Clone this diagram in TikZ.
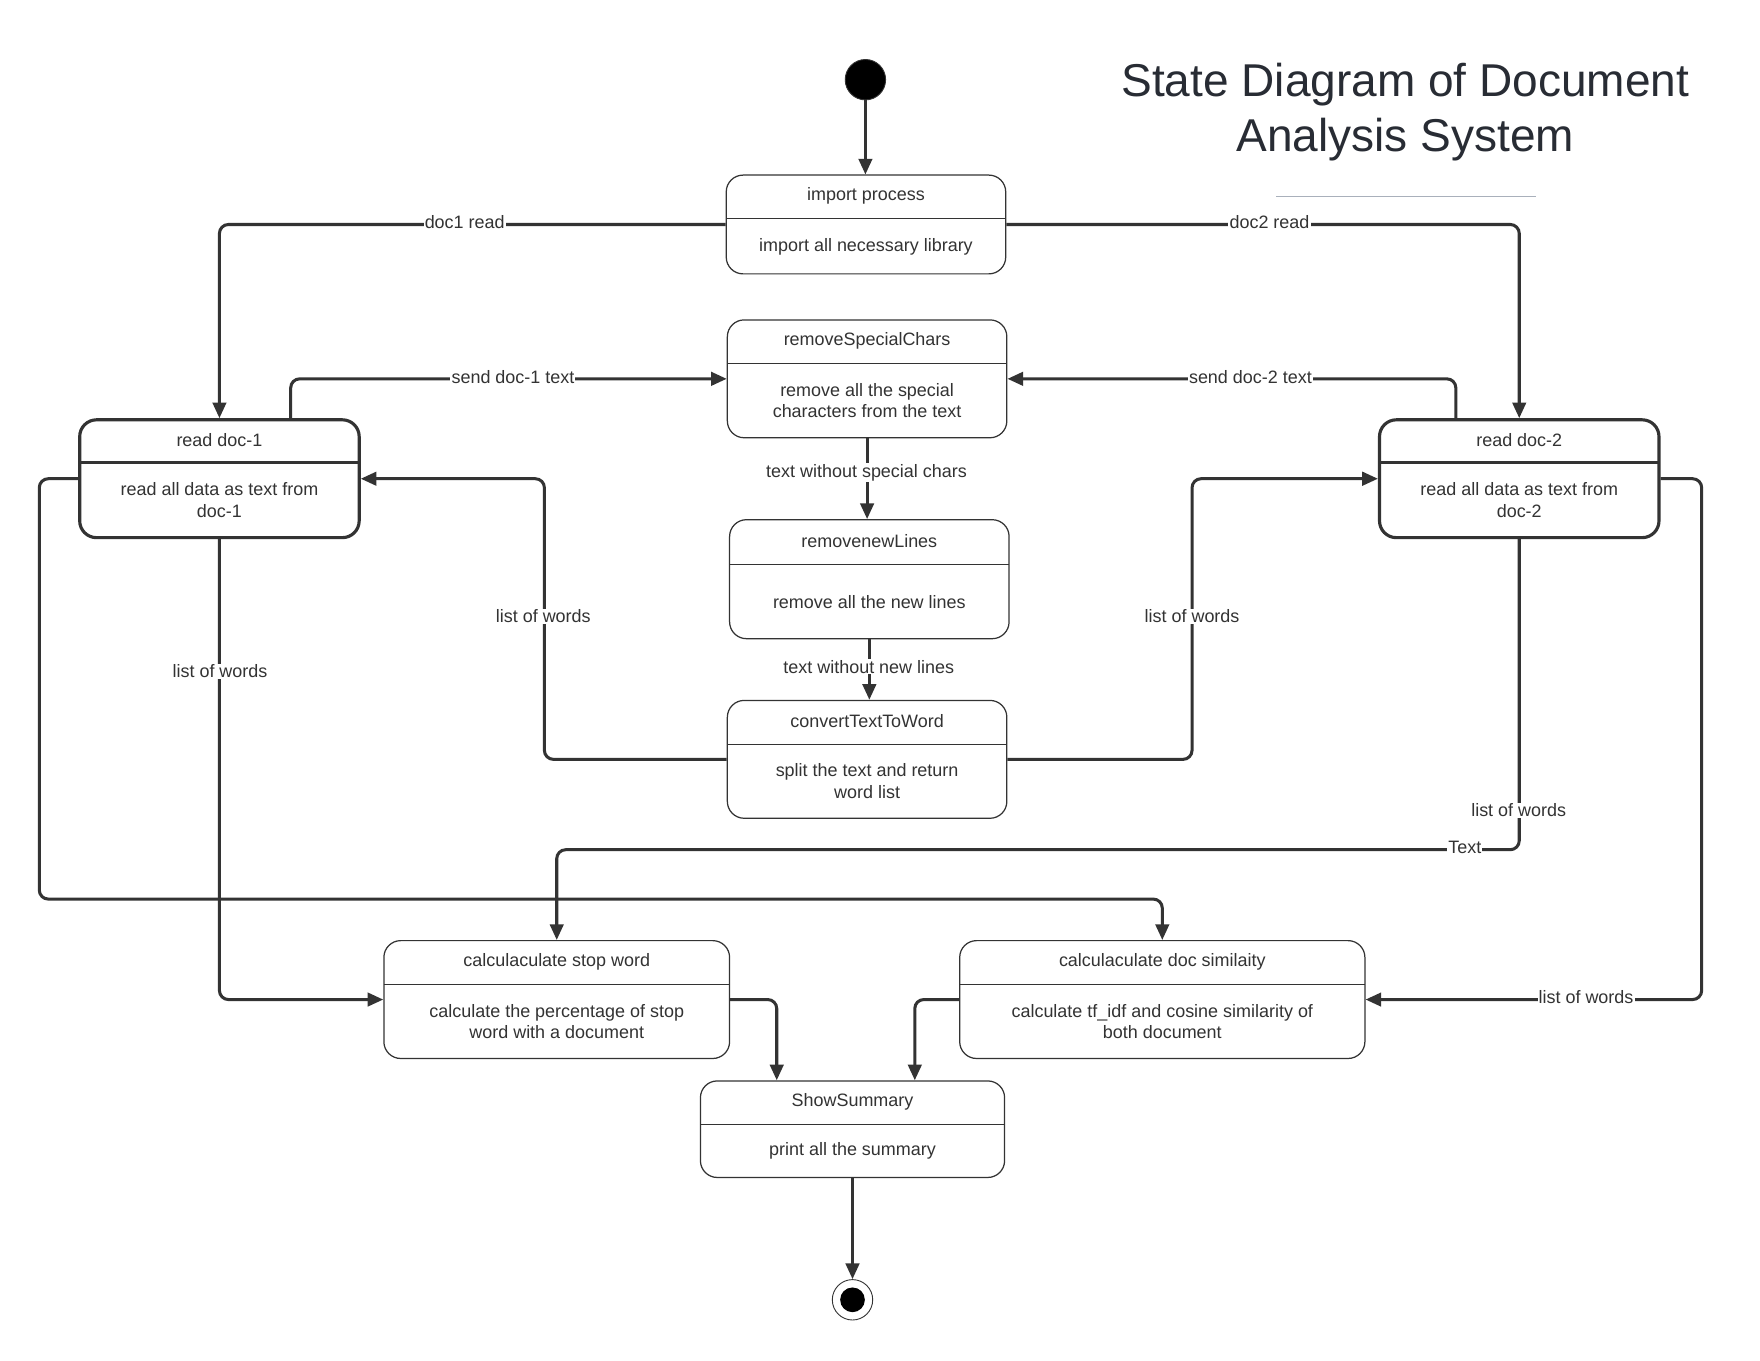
\documentclass[tikz,border=0pt]{standalone}
\usepackage{fontspec}
\setmainfont{Liberation Sans}
\usetikzlibrary{arrows.meta}
\definecolor{ln}{HTML}{333333}
\definecolor{tx}{HTML}{333333}
\definecolor{ttl}{HTML}{282C34}
\definecolor{rule}{HTML}{A9B0BB}
\newcommand\stbox[9]{%
  \node[#2, minimum width={#5-#3}, minimum height={#6-#4}] (#1) at ({(#3+#5)/2},{(#4+#6)/2}) {};
  \draw[#2, rounded corners=0pt, fill=none] (#3,#7) -- (#5,#7);
  \node[txt] at ({(#3+#5)/2},{(#4+#7)/2-1}) {#8};
  \node[txt] at ({(#3+#5)/2},{(#7+#6)/2}) {#9};
}
\begin{document}
\begin{tikzpicture}[x=1pt,y=-1pt,
  box/.style={draw=ln, rounded corners=15pt, line width=1.1pt, inner sep=0pt, fill=white},
  thickbox/.style={box, line width=2.8pt},
  conn/.style={draw=ln, line width=2.7pt, rounded corners=8pt},
  arr/.style={conn, -{Triangle[length=14pt,width=12pt]}},
  lbl/.style={fill=white, inner sep=1pt, text=tx, font=\fontsize{16}{19}\selectfont},
  txt/.style={text=tx, font=\fontsize{16}{19}\selectfont, align=center, inner sep=0pt},
]
\fill[white] (0,0) rectangle (1568,1212);
\useasboundingbox (0,0) rectangle (1568,1212);

% title
\node[text=ttl, font=\fontsize{41}{49}\selectfont, align=center] (title) at (1252,100) {State Diagram of Document\\Analysis System};
\draw[rule, line width=1.3pt] (1137,175) -- (1368,175);

% pseudo states
\node[circle, fill=black, draw=ln, line width=0.8pt, minimum size=36pt, inner sep=0pt] (start) at (771,71) {};
\node[circle, fill=white, draw=ln, line width=0.8pt, minimum size=36pt, inner sep=0pt] (end) at (759.5,1158) {};
\fill[black] (end.center) circle (11);

% states
\stbox{imp}{box}{647}{156}{896}{244}{195}{import process}{import all necessary library}
\stbox{rsc}{box}{648}{285}{897}{390}{324}{removeSpecialChars}{remove all the special\\characters from the text}
\stbox{rnl}{box}{650}{463}{899}{569}{503}{removenewLines}{remove all the new lines}
\stbox{ctw}{box}{648}{624}{897}{729}{663}{convertTextToWord}{split the text and return\\word list}
\stbox{rd1}{thickbox}{71}{374}{320}{479}{412}{read doc-1}{read all data as text from\\doc-1}
\stbox{rd2}{thickbox}{1229}{374}{1478}{479}{412}{read doc-2}{read all data as text from\\doc-2}
\stbox{csw}{box}{342}{838}{650}{943}{877}{calculaculate stop word}{calculate the percentage of stop\\word with a document}
\stbox{cds}{box}{855}{838}{1216}{943}{877}{calculaculate doc similaity}{calculate tf\_idf and cosine similarity of\\both document}
\stbox{ss}{box}{624}{963}{895}{1049}{1002}{ShowSummary}{print all the summary}

% connectors
\draw[arr] (start.south) -- (imp.north -| start.south);
\draw[arr] (imp.west) -| (rd1.north);
\draw[arr] (imp.east) -| (rd2.north);
\draw[arr] (rd1.north -| 259,0) |- (rsc.west);
\draw[arr] (rd2.north -| 1297,0) |- (rsc.east);
\draw[arr] (rsc.south) -- (rsc.south |- rnl.north);
\draw[arr] (rnl.south) -- (rnl.south |- ctw.north);
\draw[arr] (ctw.west) -| (485,540) |- (rd1.east);
\draw[arr] (ctw.east) -| (1062,540) |- (rd2.west);
\draw[arr] (rd1.south) |- (csw.west);
\draw[arr] (rd1.west) -| (35,801) -| (cds.north);
\draw[arr] (rd2.south) |- (csw.north |- 0,757) -- (csw.north);
\draw[arr] (rd2.east) -| (1516,890.5) -- (cds.east);
\draw[arr] (csw.east) -| (ss.north -| 692,0);
\draw[arr] (cds.west) -| (ss.north -| 815,0);
\draw[arr] (ss.south) -- (end.north);

% connector labels
\node[lbl] (l1) at (414,198) {doc1 read};
\node[lbl] (l2) at (1131,198) {doc2 read};
\node[lbl] (l3) at (457,336) {send doc-1 text};
\node[lbl] (l4) at (1114,336) {send doc-2 text};
\node[lbl] (l5) at (772,421) {text without special chars};
\node[lbl] (l6) at (774,594) {text without new lines};
\node[lbl] (l7) at (484,549) {list of words};
\node[lbl] (l8) at (1062,549) {list of words};
\node[lbl] (l9) at (196,598) {list of words};
\node[lbl] (l10) at (1353,722) {list of words};
\node[lbl] (l11) at (1305,755) {Text};
\node[lbl] (l12) at (1413,888) {list of words};
\end{tikzpicture}
\end{document}
